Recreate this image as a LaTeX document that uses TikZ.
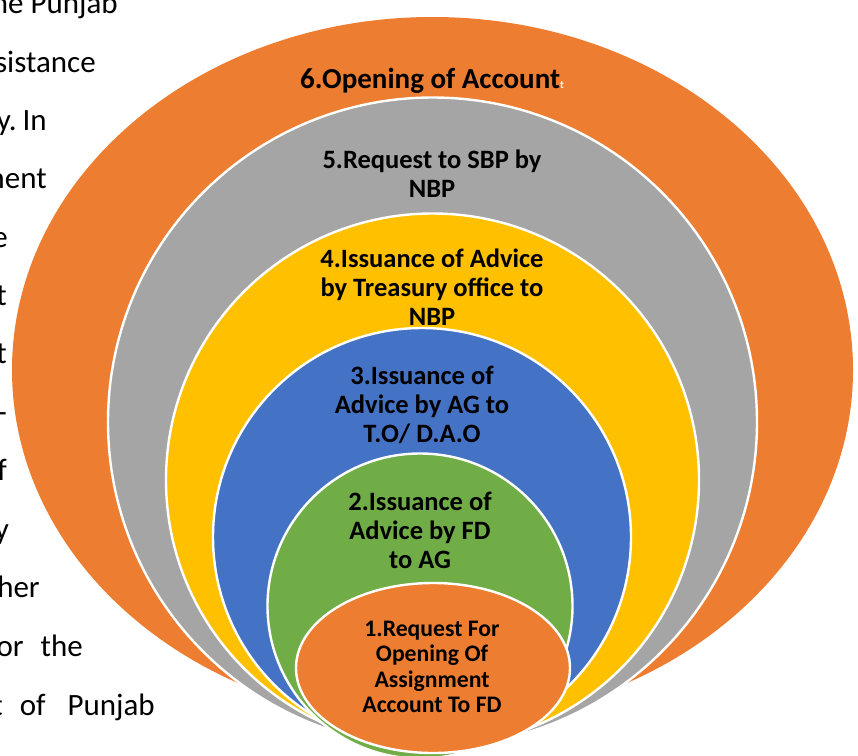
\documentclass[tikz,border=0pt]{standalone}
\usepackage{fontspec}
\setmainfont{Carlito}
\definecolor{ringorange}{HTML}{ED7D31}
\definecolor{ringgray}{HTML}{A5A5A5}
\definecolor{ringgold}{HTML}{FFC000}
\definecolor{ringblue}{HTML}{4472C4}
\definecolor{ringgreen}{HTML}{70AD47}
\begin{document}
\begin{tikzpicture}[x=1pt,y=-1pt,
  ring/.style={draw=white, line width=2.4pt},
  bodytext/.style={anchor=base east, inner sep=0pt, text=black,
    font=\fontsize{31}{37}\selectfont},
  steplabel/.style={align=center, inner sep=0pt, text=black,
    font=\bfseries\fontsize{26.5}{29}\selectfont}]
\useasboundingbox (0,0) rectangle (858,755);
\clip (0,0) rectangle (858,755);

% column of body text on the left
\node[bodytext] (p1)  at (118,13)  {he Punjab};
\node[bodytext] (p2)  at (96,72)   {sistance};
\node[bodytext] (p3)  at (47,130)  {y.\hspace{6pt}In};
\node[bodytext] (p4)  at (47,188)  {ment};
\node[bodytext] (p5)  at (8,247)   {e};
\node[bodytext] (p6)  at (7,305)   {t};
\node[bodytext] (p7)  at (7,363)   {t};
\node[bodytext] (p8)  at (7,422)   {-};
\node[bodytext] (p9)  at (7,480)   {f};
\node[bodytext] (p10) at (9,539)   {y};
\node[bodytext] (p11) at (40,597)  {her};
\node[bodytext] (p12) at (83,656)  {or\hspace{17pt}the};
\node[bodytext] (p13) at (155,715) {t\hspace{17pt}of\hspace{22pt}Punjab};

% nested rings, back to front
\fill[ringorange] (432.5,370) ellipse [x radius=420.5pt, y radius=353pt];
\filldraw[ring, fill=ringgray]  (432.5,422) circle [radius=324.5pt];
\filldraw[ring, fill=ringgold]  (432.5,480) circle [radius=266.5pt];
\filldraw[ring, fill=ringblue]  (422,537)   circle [radius=209pt];
\filldraw[ring, fill=ringgreen] (420,606)   circle [radius=152.5pt];
\filldraw[ring, fill=ringorange] (433,668) ellipse [x radius=137pt, y radius=85pt];

% step labels
\node[steplabel, anchor=base, font=\bfseries\fontsize{29}{32}\selectfont] (s6) at (432,88.3)
  {6.Opening of Account\textcolor{white}{\fontsize{11}{11}\selectfont t}};
\node[steplabel] (s5) at (432,174) {5.Request to SBP by\\NBP};
\node[steplabel] (s4) at (432,287) {4.Issuance of Advice\\by Treasury office to\\NBP};
\node[steplabel] (s3) at (422,405) {3.Issuance of\\Advice by AG to\\T.O/ D.A.O};
\node[steplabel] (s2) at (420,530) {2.Issuance of\\Advice by FD\\to AG};
\node[steplabel, font=\bfseries\fontsize{23.7}{25.3}\selectfont] (s1) at (432,667)
  {1.Request For\\Opening Of\\Assignment\\Account To FD};
\end{tikzpicture}
\end{document}
